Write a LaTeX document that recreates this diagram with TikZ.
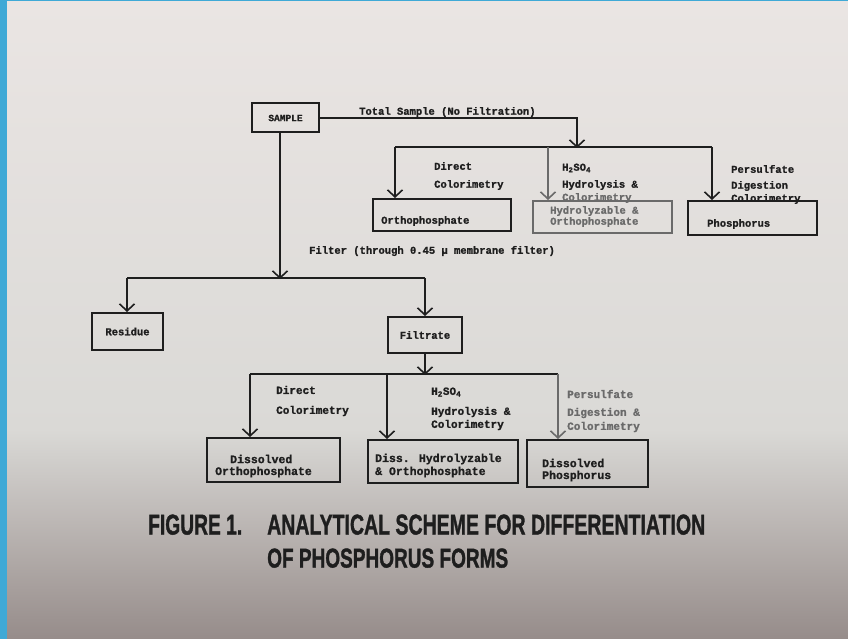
\documentclass[tikz,border=0pt]{standalone}
\usepackage{graphicx}
\usepackage{fontspec}
\usetikzlibrary{arrows.meta}
\newfontfamily\tw{Liberation Mono}[BoldFeatures={FakeBold=1.2}]
\newfontfamily\capfont{Liberation Sans}[BoldFeatures={FakeBold=1.5}]
\definecolor{ink}{HTML}{1E1E1E}
\definecolor{fade}{HTML}{6A6A6A}
\definecolor{frame}{HTML}{3FA9D6}
\begin{document}
\begin{tikzpicture}[x=1pt,y=-1pt,
  box/.style={draw=ink,line width=2pt,rectangle,inner sep=0pt},
  conn/.style={draw=ink,line width=1.7pt},
  arr/.style={conn,-{Straight Barb[length=7pt,width=15pt,line width=1.6pt]}},
  lbl/.style={anchor=west,inner sep=0pt,text=ink,font=\tw\bfseries\fontsize{10.5}{12}\selectfont},
  lbll/.style={anchor=west,inner sep=0pt,text=ink,font=\tw\bfseries\fontsize{11}{13}\selectfont},
  lblb/.style={anchor=west,inner sep=0pt,text=ink,font=\tw\bfseries\fontsize{11.5}{13}\selectfont},
  captxt/.style={anchor=south west,inner sep=0pt,text=ink}]
\useasboundingbox (0,0) rectangle (848,639);
% background
\fill[frame] (0,0) rectangle (848,639);
\shade[top color={rgb,255:red,234;green,229;blue,227},bottom color={rgb,255:red,218;green,217;blue,214}] (7,2) rectangle (848,430);
\shade[top color={rgb,255:red,218;green,217;blue,214},bottom color={rgb,255:red,150;green,140;blue,138}] (7,429.5) rectangle (848,639);

% boxes
\node[box,minimum width=67pt,minimum height=29pt,font=\tw\bfseries\fontsize{9.5}{11}\selectfont,text=ink] (sample) at (285.5,118) {SAMPLE};
\node[box,minimum width=138pt,minimum height=32pt] (ortho) at (442,215) {};
\node[box,draw=fade,minimum width=139pt,minimum height=32pt] (hydro) at (602.5,217) {};
\node[box,minimum width=129pt,minimum height=34pt] (phos) at (752.5,218) {};
\node[box,minimum width=71pt,minimum height=37pt,font=\tw\bfseries\fontsize{10.5}{12}\selectfont,text=ink] (residue) at (127.5,331.5) {Residue};
\node[box,minimum width=74pt,minimum height=36pt,font=\tw\bfseries\fontsize{10.5}{12}\selectfont,text=ink] (filtrate) at (425,335) {Filtrate};
\node[box,minimum width=133pt,minimum height=44pt] (dortho) at (273.5,460) {};
\node[box,minimum width=150pt,minimum height=43pt] (dhydro) at (443,461.5) {};
\node[box,minimum width=121pt,minimum height=47pt] (dphos) at (587.5,463.5) {};

% junction coordinates
\coordinate (tj) at (577,147);
\coordinate (tl) at (395,147);
\coordinate (tr) at (712,147);
\coordinate (tm) at (548,147);
\coordinate (fj) at (280,278);
\coordinate (fl) at (127,278);
\coordinate (fr) at (425,278);
\coordinate (lj) at (425,374);
\coordinate (ll) at (250,374);
\coordinate (lm) at (387,374);
\coordinate (lr) at (558,374);

% connectors: total sample
\draw[arr] (sample.east) -| ([yshift=-1pt]tj);
\draw[conn] (tl) -- (tr);
\draw[arr] (tl) -- (tl |- ortho.north);
\draw[arr,draw=fade] (tm) -- (tm |- hydro.north);
\draw[arr] (tr) -- (tr |- phos.north);
% filter
\draw[arr] (fj |- sample.south) -- ([yshift=-1pt]fj);
\draw[conn] (fl) -- (fr);
\draw[arr] (fl) -- (fl |- residue.north);
\draw[arr] (fr) -- (filtrate.north);
% filtrate branch
\draw[arr] (filtrate.south) -- ([yshift=-1pt]lj);
\draw[conn] (ll) -- (lr);
\draw[arr] (ll) -- (ll |- dortho.north);
\draw[arr] (lm) -- (lm |- dhydro.north);
\draw[arr,draw=fade] (lr) -- (lr |- dphos.north);

% labels top
\node[lbl] (tsl) at (359,112) {Total Sample (No Filtration)};
\node[lbl] (d1) at (434,166) {Direct};
\node[lbl] (c1) at (434,185) {Colorimetry};
\node[lbl] (h1) at (562,168) {H\textsubscript{2}SO\textsubscript{4}};
\node[lbl] (hy1) at (562,185) {Hydrolysis \&};
\node[lbl,text=fade] (c2) at (562,198) {Colorimetry};
\node[lbl] (p1) at (731,169) {Persulfate};
\node[lbl] (dg1) at (731,186) {Digestion};
\node[lbl] (c3) at (731,199) {Colorimetry};
\node[lbl] (bo1) at (381,221) {Orthophosphate};
\node[lbl,text=fade] (bh1) at (550,211) {Hydrolyzable \&};
\node[lbl,text=fade] (bh2) at (550,222) {Orthophosphate};
\node[lbl] (bp1) at (707,224) {Phosphorus};
\node[lbl] (fl1) at (309,251) {Filter (through 0.45 μ membrane filter)};

% labels lower
\node[lbll] (d2) at (276,390) {Direct};
\node[lbll] (c4) at (276,411) {Colorimetry};
\node[lbll] (h2) at (431,392) {H\textsubscript{2}SO\textsubscript{4}};
\node[lbll] (hy2) at (431,412) {Hydrolysis \&};
\node[lbll] (c5) at (431,425) {Colorimetry};
\node[lbll,text=fade] (p2) at (567,394) {Persulfate};
\node[lbll,text=fade] (dg2) at (567,413) {Digestion \&};
\node[lbll,text=fade] (c6) at (567,427) {Colorimetry};
\node[lblb] (bd1) at (230,459) {Dissolved};
\node[lblb] (bd2) at (215,472) {Orthophosphate};
\node[lblb] (bdh1) at (375,459) {Diss. Hydrolyzable};
\node[lblb] (bdh2) at (375,472) {\& Orthophosphate};
\node[lblb] (bdp1) at (542,463) {Dissolved};
\node[lblb] (bdp2) at (542,476) {Phosphorus};

% caption
\node[captxt] (cap1) at (148,535) {\resizebox{94pt}{20pt}{\capfont\bfseries FIGURE 1.}};
\node[captxt] (cap2) at (267,535) {\resizebox{438pt}{20pt}{\capfont\bfseries ANALYTICAL SCHEME FOR DIFFERENTIATION}};
\node[captxt] (cap3) at (267,568) {\resizebox{241pt}{19pt}{\capfont\bfseries OF PHOSPHORUS FORMS}};
\end{tikzpicture}
\end{document}
